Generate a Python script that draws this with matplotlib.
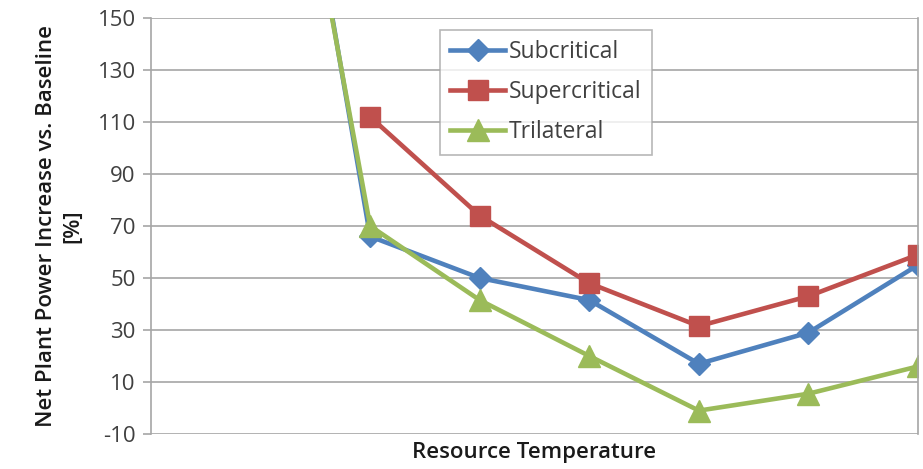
import numpy as np
import matplotlib
matplotlib.use("Agg")
import matplotlib.pyplot as plt

plt.rcParams["font.family"] = ["Open Sans", "DejaVu Sans"]
plt.rcParams["axes.unicode_minus"] = False

# resource temperature steps (no labels drawn on the axis)
categories = list(range(8))
subcritical = [np.nan, 310, 66, 50, 41.5, 17, 29, 55]
supercritical = [np.nan, np.nan, 112, 74, 48, 31.5, 43, 59]
trilateral = [np.nan, 300, 70, 41.5, 20, -1, 5.5, 16]

y_ticks = list(range(-10, 151, 20))

fig = plt.figure(figsize=(9.23, 4.69), dpi=100)
ax = fig.add_axes([0.1636, 0.0746, 0.8310, 0.8870])

ax.plot(categories, subcritical, color="#4F81BD", lw=3.3, marker="D", ms=11,
        label="Subcritical")
ax.plot(categories, supercritical, color="#C0504D", lw=3.3, marker="s", ms=15,
        label="Supercritical")
ax.plot(categories, trilateral, color="#9BBB59", lw=3.3, marker="^", ms=16,
        label="Trilateral")

ax.set_xlim(0, 7)
ax.set_ylim(-10, 150)
ax.set_yticks(y_ticks)
ax.set_xticks([])
ax.yaxis.grid(True, color="#A6A6A6", lw=1.2)
ax.set_axisbelow(True)

for side in ["top", "bottom"]:
    ax.spines[side].set_visible(False)
for side in ["left", "right"]:
    ax.spines[side].set_color("#A6A6A6")
    ax.spines[side].set_linewidth(1.2)
ax.tick_params(axis="y", direction="out", length=6, width=1.2, color="#A6A6A6",
               labelsize=16, labelcolor="#404040", pad=5)

ax.set_ylabel("Net Plant Power Increase vs. Baseline\n[%]", fontsize=16,
              fontweight="semibold", color="#1a1a1a", labelpad=10, linespacing=1.35)
ax.set_xlabel("Resource Temperature", fontsize=16, fontweight="semibold",
              color="#1a1a1a", labelpad=6)

leg = ax.legend(loc="upper left", bbox_to_anchor=(0.377, 0.971), fontsize=16.5,
                frameon=True, fancybox=False, edgecolor="#A6A6A6",
                handlelength=2.4, handletextpad=0.15, labelspacing=0.7,
                borderpad=0.45, labelcolor="#404040", borderaxespad=0)
leg.get_frame().set_linewidth(1.2)

fig.savefig("out.png", dpi=100)
